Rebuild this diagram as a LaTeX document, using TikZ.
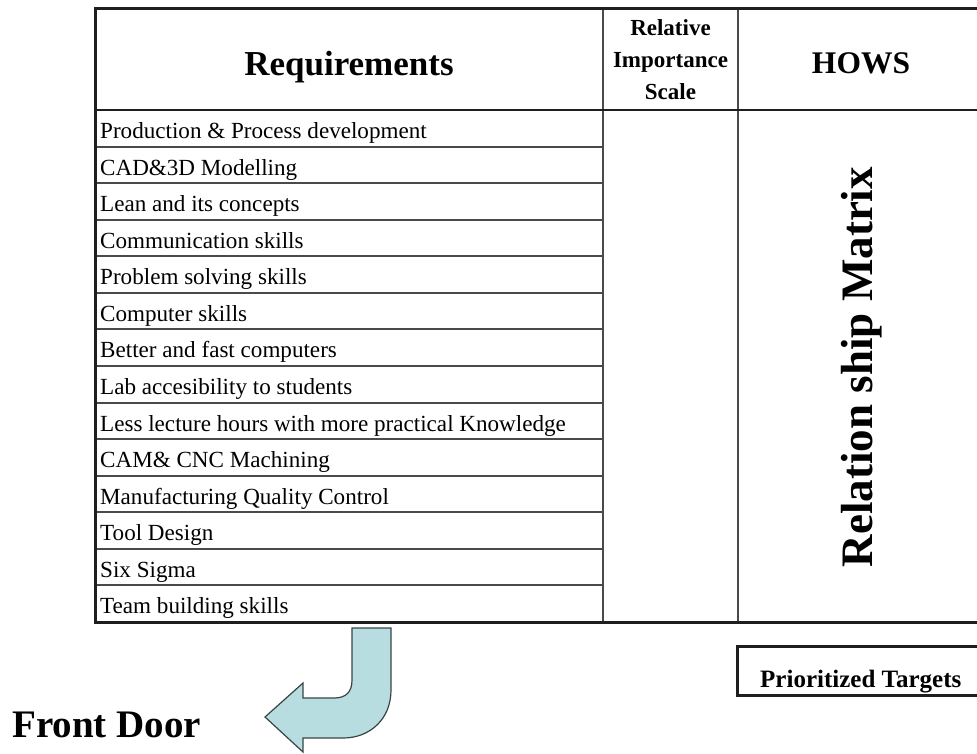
\documentclass[tikz,border=0pt]{standalone}
\usepackage{fontspec}
\setmainfont{Liberation Serif}
\usepackage{xcolor}
\definecolor{qfd-main}{HTML}{1E1E1E}
\definecolor{qfd-grid}{HTML}{4A4A4A}
\definecolor{qfd-arrow}{HTML}{B7DDE0}
\definecolor{qfd-edge}{HTML}{3A4446}
\usepackage{tikz}

\begin{document}
\begin{tikzpicture}[x=1pt, y=-1pt,
    rowtext/.style={anchor=base west, inner sep=0pt, font=\fontsize{23.1}{27}\selectfont},
    headtext/.style={inner sep=0pt, align=center, font=\bfseries\fontsize{#1}{32}\selectfont}]

    \useasboundingbox (0, 0) rectangle (977, 753);
    \clip (0, 0) rectangle (977, 753);

    % Row lines
    \foreach \i in {1,...,13}
        \draw[qfd-grid, line width=2pt] (95, 110 + 36.57*\i) -- (603, 110 + 36.57*\i);

    % Columns and header
    \draw[qfd-grid, line width=2.2pt] (603, 8) -- (603, 622);
    \draw[qfd-grid, line width=2.2pt] (738, 8) -- (738, 622);
    \draw[qfd-main, line width=2.4pt] (95, 110) -- (990, 110);

    % Frame
    \draw[qfd-main, line width=3pt] (95, 8) rectangle (990, 622);

    % Headings
    \node[headtext=35, anchor=base] (req) at (349, 75) {Requirements};
    \node[headtext=23] (ris) at (670.5, 60) {Relative\\Importance\\Scale};
    \node[headtext=31.5, anchor=base] (hows) at (861, 73) {HOWS};
    \node[headtext=45, rotate=90] (rsm) at (862, 367) {Relation ship Matrix};

    % Requirements
    \foreach \txt [count=\i] in {Production \& Process development, CAD\&3D Modelling,
        Lean and its concepts, Communication skills, Problem solving skills,
        Computer skills, Better and fast computers, Lab accesibility to students,
        Less lecture hours with more practical Knowledge, CAM\& CNC Machining,
        Manufacturing Quality Control, Tool Design, Six Sigma, Team building skills}
        \node[rowtext] (row\i) at (100, 102 + 36.57*\i) {\txt};

    % Targets
    \draw[qfd-main, line width=3pt] (737, 646) rectangle (995, 695);
    \node[headtext=25, anchor=base west] (pt) at (760, 687) {Prioritized Targets};

    % Arrow
    \filldraw[fill=qfd-arrow, draw=qfd-edge, line width=1.2pt]
        (352, 628) -- (391, 628) -- (391, 690)
        .. controls (391, 719) and (370, 738) .. (343, 738) -- (303, 738) -- (303, 752)
        -- (265, 717) -- (303, 683) -- (303, 698) -- (334, 698)
        .. controls (346, 698) and (352, 692) .. (352, 680) -- cycle;

    % Front door
    \node[headtext=39, anchor=base west] (fd) at (12, 737) {Front Door};

\end{tikzpicture}
\end{document}
